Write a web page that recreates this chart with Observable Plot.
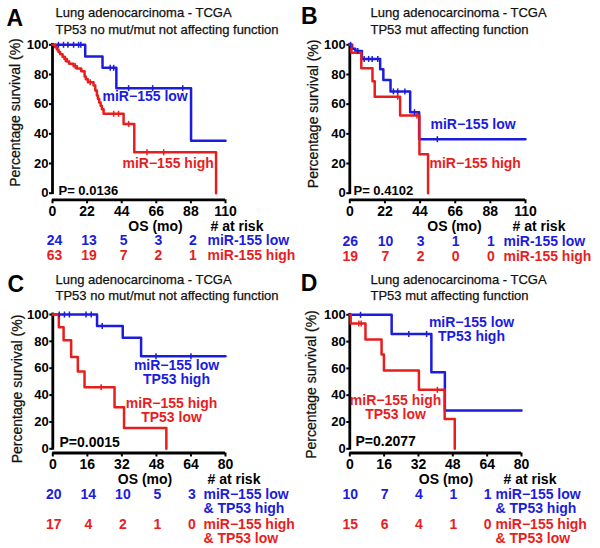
<!DOCTYPE html>
<html><head><meta charset="utf-8">
<script src="https://cdn.jsdelivr.net/npm/d3@7"></script>
<script src="https://cdn.jsdelivr.net/npm/@observablehq/plot@0.6"></script>
<style>
body{margin:0;background:#fff;}
#fig{position:relative;width:600px;height:548px;overflow:hidden;background:#fff;}
.panel{position:absolute;}
</style></head><body><div id="fig"></div>
<script>
const BLUE = "#1c1cdc";
const RED = "#e81e1e";
const yTicks = [0, 20, 40, 60, 80, 100];
const yLabel = "Percentage survival (%)";
const xLabel = "OS (mo)";
const riskHead = "# at risk";

// ---------- Panel A ----------
const aTitle = ["Lung adenocarcinoma - TCGA", "TP53 no mut/mut not affecting function"];
const aXTicks = [0, 22, 44, 66, 88, 110];
const aLowT = [0, 20.8, 31.8, 40.6, 88.1, 110];
const aLowS = [100, 92.1, 84.5, 70.8, 35.3, 35.3];
const aLowCensor = [3.8, 7, 9.8, 13.4, 16.6, 18, 36.7, 38.9, 48.4, 63.7, 82.8];
const aHighT = [0, 1.7, 2.8, 3.8, 4.9, 6.4, 7.6, 9.1, 10.6, 13.4, 15.5, 18.3, 20.4, 21.2, 22.5, 26.1, 27.2, 28.2, 28.9, 29.7, 30.6, 31.4, 32.5, 45.2, 52, 104];
const aHighS = [100, 98.4, 96.8, 95.2, 93.6, 92.0, 90.4, 88.8, 87.2, 85.6, 84.0, 82.2, 78.6, 76.8, 74.8, 72.6, 69.2, 65.8, 63.5, 61.2, 59.0, 56.5, 53.5, 46.7, 27.6, 0];
const aHighCensor = [8.2, 14.5, 24, 38.9, 42, 48.4, 60.1, 70.7];
const aRiskT = [0, 22, 44, 66, 88];
const aRiskLow = [24, 13, 5, 3, 2];
const aRiskHigh = [63, 19, 7, 2, 1];
const aCurveLow = "miR\u2212155 low";
const aCurveHigh = "miR\u2212155 high";
const aTableLow = "miR-155 low";
const aTableHigh = "miR-155 high";
const aP = "P= 0.0136";

// ---------- Panel B ----------
const bTitle = ["Lung adenocarcinoma - TCGA", "TP53 mut affecting function"];
const bXTicks = [0, 22, 44, 66, 88, 110];
const bLowT = [0, 1.5, 3.5, 7.6, 19, 21, 25.5, 37.8, 43.4, 110];
const bLowS = [100, 97.4, 95.8, 90.5, 83.5, 76.2, 68.6, 54.6, 36.4, 36.4];
const bLowCensor = [0.5, 5, 9, 11.8, 14, 17.5, 27.3, 30, 34.5, 40.5, 54.8];
const bHighT = [0, 1, 7.2, 14.2, 15.6, 31.5, 43.6, 49];
const bHighS = [100, 94.7, 84.2, 75.4, 65, 52.4, 26.2, 0];
const bHighCensor = [30, 42];
const bRiskT = [0, 22, 44, 66, 88];
const bRiskLow = [26, 10, 3, 1, 1];
const bRiskHigh = [19, 7, 2, 0, 0];
const bCurveLow = "miR\u2212155 low";
const bCurveHigh = "miR\u2212155 high";
const bTableLow = "miR-155 low";
const bTableHigh = "miR-155 high";
const bP = "P= 0.4102";

// ---------- Panel C ----------
const cTitle = ["Lung adenocarcinoma - TCGA", "TP53 no mut/mut not affecting function"];
const cXTicks = [0, 16, 32, 48, 64, 80];
const cLowT = [0, 20.5, 32.4, 40.9, 80];
const cLowS = [100, 91.5, 82.6, 68.9, 68.9];
const cLowCensor = [3, 5.4, 7.7, 15.4, 17.8, 22.9, 47.8, 64];
const cHighT = [0, 2.8, 5, 8.5, 11.6, 14.7, 28.6, 33, 52.6];
const cHighS = [100, 90.5, 80.8, 68.4, 57.6, 45.8, 31, 15.5, 0];
const cHighCensor = [22.4];
const cRiskT = [0, 16, 32, 48, 64];
const cRiskLow = [20, 14, 10, 5, 3];
const cRiskHigh = [17, 4, 2, 1, 0];
const cCurveLow = "miR\u2212155 low\nTP53 high";
const cCurveHigh = "miR\u2212155 high\nTP53 low";
const cTableLow = "miR\u2212155 low\n& TP53 high";
const cTableHigh = "miR\u2212155 high\n& TP53 low";
const cP = "P=0.0015";

// ---------- Panel D ----------
const dTitle = ["Lung adenocarcinoma - TCGA", "TP53 mut affecting function"];
const dXTicks = [0, 16, 32, 48, 64, 80];
const dLowT = [0, 19.5, 38, 44.3, 80];
const dLowS = [100, 85.7, 57.1, 28.6, 28.6];
const dLowCensor = [5, 27.5, 35.8];
const dHighT = [0, 0.4, 7.3, 14.8, 15.9, 32.2, 44.2, 48.9];
const dHighS = [100, 93.5, 81.5, 70.4, 58.5, 44, 22.2, 0];
const dHighCensor = [4.2, 5.3, 40.8];
const dRiskT = [0, 16, 32, 48, 64];
const dRiskLow = [10, 7, 4, 1, 1];
const dRiskHigh = [15, 6, 4, 1, 0];
const dCurveLow = "miR\u2212155 low\nTP53 high";
const dCurveHigh = "miR\u2212155 high\nTP53 low";
const dTableLow = "miR\u2212155 low\n& TP53 high";
const dTableHigh = "miR\u2212155 high\n& TP53 low";
const dP = "P=0.2077";

// step-function lookup of survival at a censoring time
function survAt(T, S, t) {
  let s = S[0];
  for (let i = 0; i < T.length; i++) if (T[i] <= t) s = S[i];
  return s;
}

const censorSymbol = {
  draw(ctx, size) {
    const h = Math.sqrt(size / Math.PI);
    ctx.moveTo(0, -h);
    ctx.lineTo(0, h);
  }
};

const FONT = "'Liberation Sans', Arial, Helvetica, sans-serif";

function makePanel(p) {
  const series = [
    {T: p.lowT, S: p.lowS, C: p.lowC, color: BLUE},
    {T: p.highT, S: p.highS, C: p.highC, color: RED}
  ];
  const lineData = series.flatMap(d => d.T.map((t, i) => ({t, s: d.S[i], g: d.color})));
  const censorData = series.flatMap(d => d.C.map(t => ({t, s: survAt(d.T, d.S, t), g: d.color})));
  const xMax = p.xTicks[p.xTicks.length - 1];
  const bold = {fontWeight: "bold", fontFamily: FONT};
  return Plot.plot({
    width: 300,
    height: p.height,
    marginLeft: p.mL,
    marginRight: p.mR,
    marginTop: p.mT,
    marginBottom: p.height - p.fb,
    style: {fontFamily: FONT, background: "white", overflow: "visible", color: "black"},
    x: {domain: [0, xMax], axis: null},
    y: {domain: [0, 100], range: [p.y0, p.y100], axis: null},
    marks: [
      // axes
      Plot.ruleX([0], {y1: 0, y2: 100, strokeWidth: 2.8, strokeLinecap: "square", stroke: "black"}),
      Plot.ruleY([0], {x1: 0, x2: xMax, dy: p.fb - p.y0, strokeWidth: 2.8, stroke: "black"}),
      Plot.axisY({ticks: yTicks, tickSize: 3, tickPadding: 1, strokeWidth: 2, fontSize: 13, ...bold, label: null, tickFormat: d => String(d)}),
      Plot.axisX({ticks: p.xTicks, tickSize: 4, tickPadding: p.tickPad, strokeWidth: 2, fontSize: 14, ...bold, label: null, tickFormat: d => String(d)}),
      // curves
      Plot.line(lineData, {x: "t", y: "s", z: "g", stroke: "g", curve: "step-after", strokeWidth: 2.5}),
      Plot.dot(censorData, {x: "t", y: "s", stroke: "g", fill: "none", symbol: censorSymbol, r: 3, strokeWidth: 1.5}),
      // curve labels
      Plot.text([p.curveLow], {x: () => p.lowLab.t, y: () => p.lowLab.v, text: d => d, textAnchor: p.lowLab.anchor, lineAnchor: "bottom", lineHeight: 1, fill: BLUE, fontSize: 14, ...bold}),
      Plot.text([p.curveHigh], {x: () => p.highLab.t, y: () => p.highLab.v, text: d => d, textAnchor: p.highLab.anchor, lineAnchor: "bottom", lineHeight: 1, fill: RED, fontSize: 14, ...bold}),
      // P value
      Plot.text([p.pval], {frameAnchor: "bottom-left", dx: p.pDx, dy: p.pDy, textAnchor: "start", lineAnchor: "bottom", fill: "black", fontSize: p.pSize, ...bold}),
      // title & letter
      Plot.text([p.title.join("\n")], {frameAnchor: "top-left", dx: p.titleDx, dy: p.titleDy, textAnchor: "start", lineAnchor: "bottom", lineHeight: p.titleLH, fontSize: 13, fill: "#111", fontFamily: FONT, stroke: "#111", strokeWidth: 0.25}),
      Plot.text([p.letter], {frameAnchor: "top-left", dx: p.letterDx, dy: p.letterDy, textAnchor: "start", lineAnchor: "bottom", fontSize: 23, fill: "black", ...bold}),
      // y label
      Plot.text([yLabel], {frameAnchor: "left", rotate: -90, dx: p.ylDx, dy: p.ylDy, textAnchor: "middle", fontSize: 14, fill: "#111", fontFamily: FONT, stroke: "#111", strokeWidth: 0.25}),
      // x label & at-risk header
      Plot.text([xLabel], {frameAnchor: "bottom", dx: p.osDx, dy: p.osDy, textAnchor: "middle", lineAnchor: "bottom", fontSize: 14, fill: "black", ...bold}),
      Plot.text([riskHead], {frameAnchor: "bottom-right", dx: p.headDx, dy: p.osDy, textAnchor: "start", lineAnchor: "bottom", fontSize: 14, fill: "black", ...bold}),
      // at-risk numbers
      Plot.text(p.riskLow, {x: (d, i) => p.riskT[i], frameAnchor: "bottom", text: d => String(d), dx: p.numDx, dy: p.lowDy, lineAnchor: "bottom", textAnchor: "middle", fill: BLUE, fontSize: 14, ...bold}),
      Plot.text(p.riskHigh, {x: (d, i) => p.riskT[i], frameAnchor: "bottom", text: d => String(d), dx: p.numDx, dy: p.highDy, lineAnchor: "bottom", textAnchor: "middle", fill: RED, fontSize: 14, ...bold}),
      Plot.text([p.tableLow], {frameAnchor: "bottom-right", dx: p.grpDx, dy: p.lowGrpDy, textAnchor: "start", lineAnchor: "bottom", lineHeight: 1, fill: BLUE, fontSize: 14, ...bold}),
      Plot.text([p.tableHigh], {frameAnchor: "bottom-right", dx: p.grpDx, dy: p.highGrpDy, textAnchor: "start", lineAnchor: "bottom", lineHeight: 1, fill: RED, fontSize: 14, ...bold})
    ]
  });
}

const layouts = [
  {letter: "A", left: 0, top: 0, height: 270, mL: 52, mR: 75, mT: 44, fb: 199.3, y0: 192.7, y100: 44.3, tickPad: 2.2,
   xTicks: aXTicks, lowT: aLowT, lowS: aLowS, lowC: aLowCensor, highT: aHighT, highS: aHighS, highC: aHighCensor,
   riskT: aRiskT, riskLow: aRiskLow, riskHigh: aRiskHigh, curveLow: aCurveLow, curveHigh: aCurveHigh,
   tableLow: aTableLow, tableHigh: aTableHigh, pval: aP, title: aTitle,
   lowLab: {t: 31.8, v: 62, anchor: "start"}, highLab: {t: 44.5, v: 17.3, anchor: "start"},
   pDx: 6, pDy: -5.3, pSize: 13, titleDx: 3, titleDy: -11, titleLH: 1.3, letterDx: -46, letterDy: -19,
   ylDx: -37, ylDy: -9.6, osDx: 16.5, osDy: 31, headDx: -15, numDx: 2, lowDy: 45.5, highDy: 60.3,
   grpDx: -18, lowGrpDy: 45.5, highGrpDy: 60.3},
  {letter: "B", left: 300, top: 0, height: 270, mL: 49.3, mR: 75, mT: 44, fb: 199.3, y0: 192.7, y100: 44.3, tickPad: 2.2,
   xTicks: bXTicks, lowT: bLowT, lowS: bLowS, lowC: bLowCensor, highT: bHighT, highS: bHighS, highC: bHighCensor,
   riskT: bRiskT, riskLow: bRiskLow, riskHigh: bRiskHigh, curveLow: bCurveLow, curveHigh: bCurveHigh,
   tableLow: bTableLow, tableHigh: bTableHigh, pval: bP, title: bTitle,
   lowLab: {t: 50.5, v: 43.3, anchor: "start"}, highLab: {t: 49.9, v: 17, anchor: "start"},
   pDx: 3.7, pDy: -5, pSize: 13, titleDx: 20.7, titleDy: -11, titleLH: 1.3, letterDx: -48.8, letterDy: -20.7,
   ylDx: -35.8, ylDy: -8.3, osDx: 16.9, osDy: 31.3, headDx: -13, numDx: 0.5, lowDy: 46, highDy: 60.8,
   grpDx: -22, lowGrpDy: 46, highGrpDy: 60.8},
  {letter: "C", left: 0, top: 270, height: 278, mL: 52.3, mR: 75, mT: 44, fb: 182.5, y0: 178.3, y100: 44, tickPad: 2,
   xTicks: cXTicks, lowT: cLowT, lowS: cLowS, lowC: cLowCensor, highT: cHighT, highS: cHighS, highC: cHighCensor,
   riskT: cRiskT, riskLow: cRiskLow, riskHigh: cRiskHigh, curveLow: cCurveLow, curveHigh: cCurveHigh,
   tableLow: cTableLow, tableHigh: cTableHigh, pval: cP, title: cTitle,
   lowLab: {t: 57.3, v: 48.5, anchor: "middle"}, highLab: {t: 55, v: 19.8, anchor: "middle"},
   pDx: 6.7, pDy: -6.5, pSize: 14, titleDx: 2.7, titleDy: -15, titleLH: 1.23, letterDx: -45.3, letterDy: -22.3,
   ylDx: -34.8, ylDy: 5.2, osDx: 5.9, osDy: 30.8, headDx: -18, numDx: 1, lowDy: 46.3, highDy: 76,
   grpDx: -22, lowGrpDy: 59.8, highGrpDy: 89.5},
  {letter: "D", left: 300, top: 270, height: 278, mL: 49.3, mR: 79, mT: 44, fb: 182.5, y0: 178.3, y100: 44.3, tickPad: 2,
   xTicks: dXTicks, lowT: dLowT, lowS: dLowS, lowC: dLowCensor, highT: dHighT, highS: dHighS, highC: dHighCensor,
   riskT: dRiskT, riskLow: dRiskLow, riskHigh: dRiskHigh, curveLow: dCurveLow, curveHigh: dCurveHigh,
   tableLow: dTableLow, tableHigh: dTableHigh, pval: dP, title: dTitle,
   lowLab: {t: 56.7, v: 80.1, anchor: "middle"}, highLab: {t: 21.3, v: 22.3, anchor: "middle"},
   pDx: 5.7, pDy: -7.5, pSize: 14, titleDx: 20.7, titleDy: -15, titleLH: 1.23, letterDx: -49, letterDy: -23.3,
   ylDx: -37.8, ylDy: 0.8, osDx: 10.4, osDy: 30.8, headDx: -18, numDx: 0.5, lowDy: 46.3, highDy: 76,
   grpDx: -26, lowGrpDy: 59.8, highGrpDy: 89.5}
];

const fig = document.getElementById("fig");
for (const p of layouts) {
  const div = document.createElement("div");
  div.className = "panel";
  div.style.left = p.left + "px";
  div.style.top = p.top + "px";
  div.appendChild(makePanel(p));
  fig.appendChild(div);
}
</script>
</body></html>
